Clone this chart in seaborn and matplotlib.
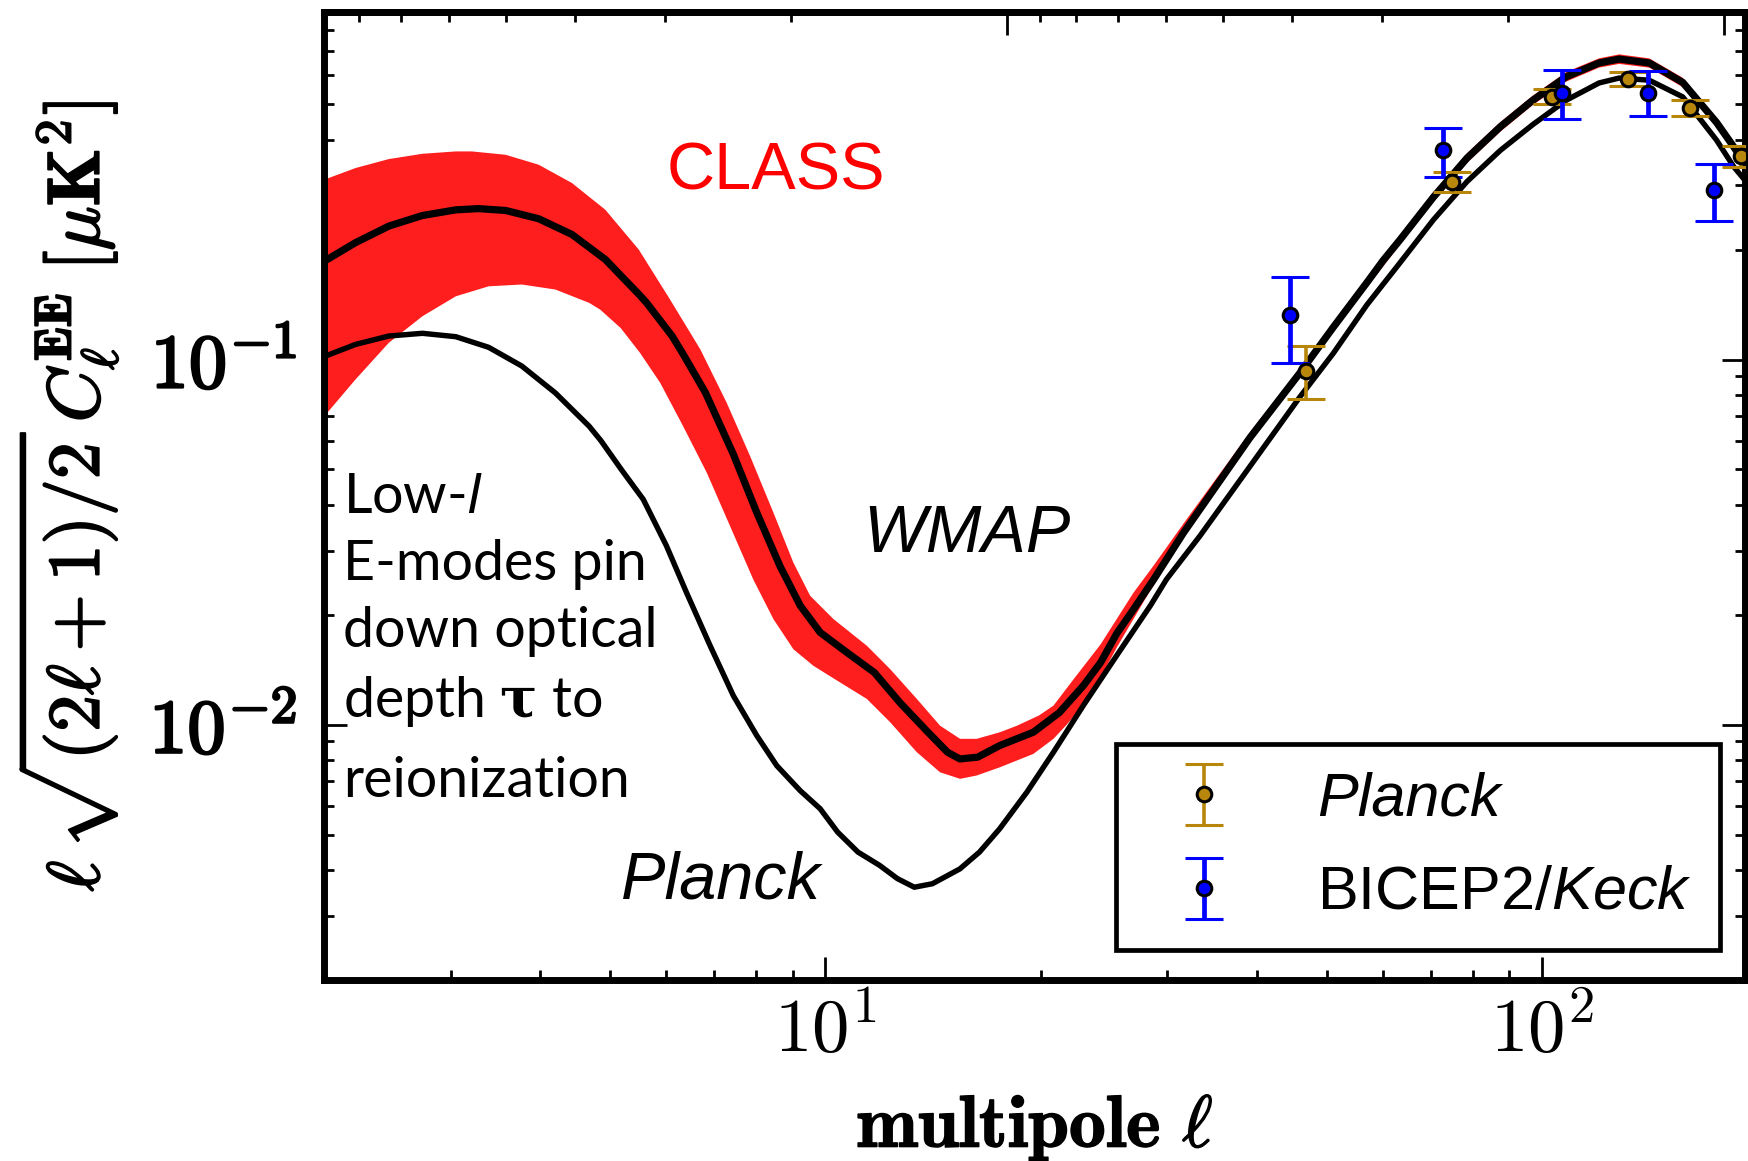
import numpy as np
import pandas as pd
import matplotlib
matplotlib.use("Agg")
import matplotlib.pyplot as plt
import matplotlib.patheffects as pe
import seaborn as sns
from matplotlib.ticker import LogLocator, NullFormatter, FixedLocator, FixedFormatter

# ---------------- data ----------------
wmap_ell = [2.0, 2.21, 2.46, 2.74, 3.05, 3.28, 3.58, 3.98, 4.43, 4.93, 5.49, 5.63, 6.11, 6.33,
            6.8, 7.44, 8.02, 8.64, 9.22, 9.83, 10.7, 11.7, 12.7, 13.9, 14.8, 15.4, 16.3, 17.5,
            19.5, 21.2, 22.9, 24.2, 25.5, 26.9, 28.7, 31.6, 39.1, 45.9, 51.1, 56.9, 60.0, 63.4,
            70.5, 78.5, 87.4, 97.0, 108, 120, 128, 141, 157, 175, 185, 193]
wmap_val = [0.186, 0.209, 0.232, 0.248, 0.257, 0.259, 0.256, 0.243, 0.220, 0.188, 0.151, 0.143,
            0.116, 0.1035, 0.0812, 0.0550, 0.0381, 0.0272, 0.0212, 0.0179, 0.0158, 0.0139, 0.0115,
            0.00954, 0.00841, 0.00806, 0.00815, 0.00877, 0.00954, 0.0108, 0.0128, 0.0148, 0.0178,
            0.0207, 0.0250, 0.0336, 0.0611, 0.0919, 0.1226, 0.1623, 0.187, 0.2135, 0.2786, 0.356,
            0.434, 0.513, 0.595, 0.649, 0.665, 0.649, 0.574, 0.446, 0.382, 0.337]

planck_ell = [2.0, 2.21, 2.46, 2.74, 3.05, 3.39, 3.77, 4.2, 4.68, 4.86, 5.19, 5.57, 6.0, 6.4, 6.9,
              7.44, 8.02, 8.55, 9.22, 9.83, 10.4, 11.1, 11.9, 12.6, 13.3, 14.1, 15.4, 16.4, 17.5,
              19.1, 20.8, 22.9, 25.5, 28.4, 29.9, 33.3, 41.3, 45.9, 51.1, 56.9, 63.3, 70.5, 78.5,
              87.4, 97.0, 108, 120, 128, 141, 157, 175, 185, 193]
planck_val = [0.102, 0.110, 0.116, 0.118, 0.1155, 0.108, 0.096, 0.081, 0.0657, 0.060, 0.050,
              0.0414, 0.0309, 0.0230, 0.0165, 0.0120, 0.00934, 0.00773, 0.0066, 0.00589, 0.00508,
              0.00448, 0.00412, 0.00379, 0.00359, 0.00367, 0.00403, 0.00448, 0.00519, 0.00654,
              0.00841, 0.0113, 0.0155, 0.0212, 0.0250, 0.0329, 0.0592, 0.079, 0.104, 0.141, 0.184,
              0.2415, 0.307, 0.374, 0.440, 0.513, 0.572, 0.590, 0.582, 0.524, 0.399, 0.337, 0.305]

band_hi_ell = [2.0, 2.21, 2.46, 2.74, 3.05, 3.21, 3.58, 3.98, 4.43, 4.93, 5.49, 6.07, 6.69, 7.28,
               7.85, 8.46, 9.02, 9.52, 10.26, 11.42, 12.31, 13.41, 14.45, 15.41, 16.25, 17.52, 18.5,
               19.85, 20.8, 22.2, 24.2, 26.9, 28.7, 31.6, 39.1, 45.9, 51.1, 56.9, 63.4, 70.5, 78.5,
               87.4, 97.0, 108, 120, 128, 141, 157, 175, 185, 193]
band_hi_val = [0.311, 0.3345, 0.354, 0.366, 0.3715, 0.3715, 0.3637, 0.3416, 0.3043, 0.2572, 0.200,
               0.146, 0.1066, 0.0762, 0.0544, 0.0381, 0.0278, 0.02255, 0.01947, 0.01646, 0.0142,
               0.01177, 0.00994, 0.00915, 0.00915, 0.00954, 0.00994, 0.0106, 0.01128, 0.01334,
               0.0166, 0.0230, 0.0273, 0.0356, 0.0632, 0.0947, 0.1263, 0.1672, 0.220, 0.287, 0.367,
               0.447, 0.528, 0.613, 0.668, 0.685, 0.668, 0.591, 0.459, 0.393, 0.347]

band_lo_ell = [2.0, 2.21, 2.46, 2.74, 3.05, 3.39, 3.77, 4.2, 4.68, 4.85, 5.18, 5.51, 5.88, 6.33,
               6.83, 7.36, 7.93, 8.46, 9.02, 9.62, 10.48, 11.42, 12.31, 13.41, 14.45, 15.41, 16.25,
               17.52, 19.5, 20.8, 21.7, 23.4, 25.5, 28.1, 31.6, 39.1, 45.9, 51.1, 56.9, 63.4, 70.5,
               78.5, 87.4, 97.0, 108, 120, 128, 141, 157, 175, 185, 193]
band_lo_val = [0.070, 0.0882, 0.1112, 0.1314, 0.149, 0.1587, 0.1605, 0.1555, 0.143, 0.137, 0.122,
               0.1044, 0.0864, 0.0657, 0.049, 0.035, 0.025, 0.01947, 0.0161, 0.0145, 0.01306,
               0.01177, 0.01016, 0.00841, 0.00741, 0.00711, 0.00726, 0.00765, 0.00832, 0.00915,
               0.0100, 0.0119, 0.0163, 0.02255, 0.0324, 0.0593, 0.0891, 0.1189, 0.1574, 0.2071,
               0.2702, 0.3453, 0.421, 0.4976, 0.577, 0.630, 0.645, 0.630, 0.557, 0.433, 0.371, 0.327]

planck_pts_ell = [46.8, 74.8, 103.3, 131.8, 160.7, 189.4]
planck_pts_val = [0.093, 0.3055, 0.525, 0.586, 0.488, 0.3615]
planck_err_lo = [0.0152, 0.0185, 0.0248, 0.0266, 0.025, 0.0255]
planck_err_hi = [0.0158, 0.020, 0.0246, 0.0285, 0.0263, 0.0235]

bicep_ell = [44.4, 72.6, 106.4, 140.3, 173.8]
bicep_val = [0.1328, 0.3738, 0.5384, 0.5384, 0.2907]
bicep_err_lo = [0.0348, 0.0578, 0.0819, 0.0754, 0.0507]
bicep_err_hi = [0.0352, 0.0562, 0.0828, 0.0789, 0.0523]

x_tick_values = [10, 100]
x_tick_labels = [r"$10^{1}$", r"$10^{2}$"]
y_tick_values = [0.01, 0.1]
y_tick_labels = [r"$\mathbf{10^{-2}}$", r"$\mathbf{10^{-1}}$"]

series_labels = ["Planck", r"BICEP2/$\mathsf{Keck}$"]
note_lines = [r"Low-$\mathsf{l}$", "E-modes pin", "down optical", r"depth $\mathbf{\tau}$ to", "reionization"]

# ---------------- style ----------------
sns.set_theme(style="white")
plt.rcParams["font.family"] = ["Liberation Sans", "DejaVu Sans"]
plt.rcParams["mathtext.fontset"] = "cm"
plt.rcParams["mathtext.sf"] = "Lato:italic"
for key in ["text.color", "axes.labelcolor", "xtick.color", "ytick.color", "axes.edgecolor"]:
    plt.rcParams[key] = "black"

fig = plt.figure(figsize=(17.48, 11.61), dpi=100)
fig.patch.set_facecolor("white")
ax = fig.add_axes([0.1856, 0.1559, 0.8129, 0.8338])
ax.set_facecolor("white")
ax.set_xscale("log")
ax.set_yscale("log")

# CLASS band
ax.fill(np.concatenate([band_hi_ell, band_lo_ell[::-1]]),
        np.concatenate([band_hi_val, band_lo_val[::-1]]),
        color="#FF1E1E", lw=0, zorder=1)

df_w = pd.DataFrame({"ell": wmap_ell, "val": wmap_val})
df_p = pd.DataFrame({"ell": planck_ell, "val": planck_val})
sns.lineplot(data=df_w, x="ell", y="val", ax=ax, color="black", lw=5.2, zorder=2,
             legend=False, estimator=None, sort=False, solid_joinstyle="round", solid_capstyle="round")
sns.lineplot(data=df_p, x="ell", y="val", ax=ax, color="black", lw=3.9, zorder=2,
             legend=False, estimator=None, sort=False, solid_joinstyle="round", solid_capstyle="round")

eb1 = ax.errorbar(planck_pts_ell, planck_pts_val, yerr=[planck_err_lo, planck_err_hi], fmt="o",
                  color="#B8860B", mfc="#B8860B", mec="black", ms=10.5, mew=2.2, elinewidth=2.6,
                  capsize=13.5, capthick=2.4, label=series_labels[0], zorder=4)
eb2 = ax.errorbar(bicep_ell, bicep_val, yerr=[bicep_err_lo, bicep_err_hi], fmt="o",
                  color="#0000FF", mfc="#0000FF", mec="black", ms=10.5, mew=2.2, elinewidth=3.4,
                  capsize=13.5, capthick=2.6, label=series_labels[1], zorder=4)

ax.set_xlim(2, 192)
ax.set_ylim(0.002, 0.895)

# ticks
ax.xaxis.set_major_locator(FixedLocator(x_tick_values))
ax.xaxis.set_major_formatter(FixedFormatter(x_tick_labels))
ax.xaxis.set_minor_locator(LogLocator(base=10, subs=np.arange(2, 10) * 1.0, numticks=50))
ax.xaxis.set_minor_formatter(NullFormatter())
ax.yaxis.set_major_locator(FixedLocator(y_tick_values))
ax.yaxis.set_major_formatter(FixedFormatter(y_tick_labels))
ax.yaxis.set_minor_locator(LogLocator(base=10, subs=np.arange(2, 10) * 1.0, numticks=50))
ax.yaxis.set_minor_formatter(NullFormatter())
ax.tick_params(which="both", direction="in", top=False, right=True, left=True, bottom=True,
               width=2, color="black")
ax.tick_params(which="major", length=16.5)
ax.tick_params(which="minor", length=7.5)
ax.tick_params(axis="x", which="major", labelsize=54, pad=12)
ax.tick_params(axis="y", which="major", labelsize=55, pad=20)
for lab in ax.get_yticklabels():
    lab.set_path_effects([pe.withStroke(linewidth=1.8, foreground="black")])

def _recip(x):
    x = np.asarray(x, dtype=float)
    with np.errstate(divide="ignore", invalid="ignore"):
        return 17.9 / x

sec = ax.secondary_xaxis("top", functions=(_recip, _recip))
sec.xaxis.set_minor_locator(LogLocator(base=10, subs=np.arange(2, 10) * 1.0, numticks=50))
sec.xaxis.set_major_formatter(NullFormatter())
sec.xaxis.set_minor_formatter(NullFormatter())
sec.tick_params(which="both", direction="in", width=2, color="black", labeltop=False)
sec.tick_params(which="major", length=16.5)
sec.tick_params(which="minor", length=7.5)
for s in sec.spines.values():
    s.set_linewidth(5)
    s.set_color("black")

for s in ax.spines.values():
    s.set_linewidth(5)
    s.set_color("black")

# labels
xlab = ax.set_xlabel(r"$\mathbf{multipole}\ \ell$", fontsize=53, va="baseline")
xlab.set_path_effects([pe.withStroke(linewidth=1.0, foreground="black")])
ax.xaxis.set_label_coords(0.5, -0.1725)
ylab = ax.set_ylabel(r"$\ell\,\sqrt{(\mathbf{2}\ell+\mathbf{1})/\mathbf{2}}\,C_\ell^{\mathbf{EE}}\;[\mu\mathbf{K}^{\mathbf{2}}]$",
                     fontsize=53, va="center")
ylab.set_path_effects([pe.withStroke(linewidth=1.4, foreground="black")])
ax.yaxis.set_label_coords(-0.181, 0.5)

# annotations
ax.text(0.2411, 0.8161, "CLASS", transform=ax.transAxes, color="#FF0000", fontsize=48,
        ha="left", va="baseline")
ax.text(0.379, 0.4425, "WMAP", transform=ax.transAxes, color="black", fontsize=48,
        style="italic", ha="left", va="baseline")
ax.text(0.209, 0.0844, "Planck", transform=ax.transAxes, color="black", fontsize=48,
        style="italic", ha="left", va="baseline")

note_y = [0.4824, 0.4132, 0.344, 0.2717, 0.189]
for i, (s, yy) in enumerate(zip(note_lines, note_y)):
    t = ax.text(0.0131, yy, s, transform=ax.transAxes, fontsize=40, family=["Lato", "DejaVu Sans"],
                ha="left", va="baseline", color="black", zorder=5)
    if i == 0:
        t.set_math_fontfamily("custom")
    if i == 3:
        t.set_math_fontfamily("dejavuserif")

leg = ax.legend(handles=[eb1, eb2], labels=series_labels, loc="lower right",
                bbox_to_anchor=(0.982, 0.031), fontsize=44, frameon=True, fancybox=False,
                edgecolor="black", framealpha=1, borderpad=0.45, handlelength=2.0,
                handletextpad=0.85, labelspacing=0.6, borderaxespad=0, numpoints=1)
leg.get_frame().set_linewidth(3.4)
for t in leg.get_texts():
    t.set_color("black")
leg.get_texts()[0].set_fontstyle("italic")
plt.rcParams["mathtext.sf"] = "Liberation Sans:italic"
leg.get_texts()[1].set_math_fontfamily("custom")

fig.savefig("out.png", dpi=100, facecolor="white")
